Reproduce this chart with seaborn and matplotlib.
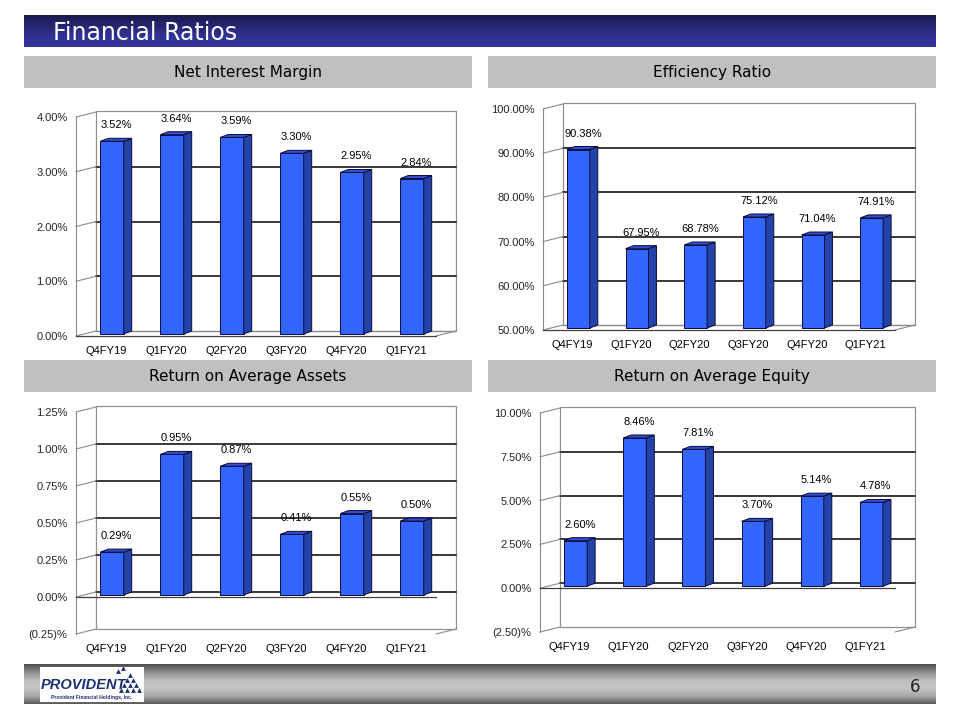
import numpy as np
import matplotlib
matplotlib.use("Agg")
import matplotlib.pyplot as plt
import seaborn as sns
from matplotlib.patches import Polygon, Rectangle
from matplotlib.transforms import IdentityTransform, ScaledTranslation
from matplotlib.colors import LinearSegmentedColormap

# data
quarters = ["Q4FY19", "Q1FY20", "Q2FY20", "Q3FY20", "Q4FY20", "Q1FY21"]
nim_values = [3.52, 3.64, 3.59, 3.30, 2.95, 2.84]
eff_values = [90.38, 67.95, 68.78, 75.12, 71.04, 74.91]
roaa_values = [0.29, 0.95, 0.87, 0.41, 0.55, 0.50]
roae_values = [2.60, 8.46, 7.81, 3.70, 5.14, 4.78]

nim_ticks = [0, 1, 2, 3, 4]
eff_ticks = [50, 60, 70, 80, 90, 100]
roaa_ticks = [-0.25, 0, 0.25, 0.5, 0.75, 1.0, 1.25]
roae_ticks = [-2.5, 0, 2.5, 5.0, 7.5, 10.0]

titles = ["Net Interest Margin", "Efficiency Ratio",
          "Return on Average Assets", "Return on Average Equity"]


def pct_label(v):
    return f"({abs(v):.2f})%" if v < 0 else f"{v:.2f}%"


sns.set_style("white")
plt.rcParams['font.family'] = ['Liberation Sans', 'DejaVu Sans']

FRONT = "#3366ff"
SIDE = "#2443a8"
TOP = "#3050d0"
EDGE = "#0b0b3c"
DX, DY = 20, 5        # back wall offset (px)
BX, BY = 6, 2         # bar front face offset (px)
SX, SY = 8, 3         # bar depth (px)
FS = 8

fig = plt.figure(figsize=(9.6, 7.2), dpi=100)
bg = fig.add_axes([0, 0, 1, 1], zorder=-1)
bg.axis("off")


def gradient(x0, x1, y0, y1, colors):
    cmap = LinearSegmentedColormap.from_list("g", colors)
    arr = np.linspace(0, 1, 128).reshape(-1, 1)
    bg.imshow(arr, cmap=cmap, extent=[x0, x1, y1, y0], aspect="auto",
              origin="upper", zorder=0, interpolation="bilinear")


# title bar
gradient(24, 936, 16, 47.5, ["#1a1a4c", "#262670", "#323296", "#34349a"])
bg.text(53, 33, "Financial Ratios", color="white", fontsize=17,
        family="DejaVu Sans", va="center", ha="left")

# grey section headers
for (x, y), title in zip([(24, 56), (488, 56), (24, 360), (488, 360)], titles):
    bg.add_patch(Rectangle((x, y), 448, 32, facecolor="#c0c0c0", edgecolor="none"))
    bg.text(x + 224, y + 16, title, fontsize=11, color="black",
            family="DejaVu Sans", ha="center", va="center")

# footer
gradient(24, 936, 664, 704, ["#4c4c4c", "#8e8e8e", "#bdbdbd", "#c4c4c4", "#a8a8a8", "#5a5a5a"])
bg.add_patch(Rectangle((40, 667), 104, 35, facecolor="white", edgecolor="none", zorder=2))
bg.text(41, 685, "PROVIDENT", fontsize=10.5, fontweight="bold", fontstyle="italic",
        color="#1c2f70", ha="left", va="center", zorder=3,
        family=["Liberation Sans Narrow", "Liberation Sans"], stretch="condensed")
bg.scatter([121, 127, 133, 139, 124, 130, 136, 127, 133, 130, 118, 123],
           [690, 690, 690, 690, 685, 685, 685, 680, 680, 675, 671, 668],
           marker="^", s=12, color="#1c2f70", zorder=3, linewidths=0)
bg.text(92, 697, "Provident Financial Holdings, Inc.", fontsize=3.6,
        color="#1c2f70", ha="center", va="center", zorder=3, fontweight="bold")
bg.text(915, 687, "6", fontsize=12, color="#222222", family="DejaVu Sans",
        ha="center", va="center")

panels = [
    (nim_values, nim_ticks, (76, 117, 436, 336), False),
    (eff_values, eff_ticks, (543, 109, 895, 330), False),
    (roaa_values, roaa_ticks, (76, 412, 436, 634), True),
    (roae_values, roae_ticks, (540, 413, 895, 632), True),
]

for values, ticks, (l, t, r, b), cross_zero in panels:
    lo, hi = ticks[0], ticks[-1]
    floor = 0 if cross_zero else lo

    def ypix(v):
        return b - (v - lo) / (hi - lo) * (b - t)

    # back wall + gridlines + left wall diagonals (image coords on bg)
    bg.add_patch(Rectangle((l + DX, t - DY - 1), r - l, b - t + 1, facecolor="white",
                           edgecolor="#909090", linewidth=0.9, zorder=1))
    for v in ticks:
        y = ypix(v)
        if lo < v < hi:
            bg.plot([l + DX, r + DX], [y - DY, y - DY], color="#383838", lw=1.4, zorder=2)
        bg.plot([l, l + DX], [y, y - DY], color="#8a8a8a", lw=0.8, zorder=2)
    bg.plot([r, r + DX], [b, b - DY], color="#8a8a8a", lw=0.8, zorder=2)
    if not cross_zero:
        bg.plot([l + DX, r + DX], [b - DY, b - DY], color="#8a8a8a", lw=0.9, zorder=2)

    # front plane axes
    ax = fig.add_axes([l / 960, (720 - b) / 720, (r - l) / 960, (b - t) / 720])
    ax.patch.set_alpha(0)
    sns.barplot(x=quarters, y=values, color=FRONT, saturation=1, width=0.39,
                edgecolor=EDGE, linewidth=0.7, ax=ax, zorder=3)
    ax.set_xlim(-0.5, 5.5)
    ax.set_ylim(lo, hi)

    shift = ScaledTranslation(BX / 100, BY / 100, fig.dpi_scale_trans)
    for p in list(ax.patches):
        p.set_y(floor)
        p.set_height(p.get_height() - floor)
        p.set_transform(ax.transData + shift)
        p.set_clip_on(False)
        x0, x1 = p.get_x(), p.get_x() + p.get_width()
        y0, y1 = floor, floor + p.get_height()
        (ax0, ay0) = ax.transData.transform((x0, y0)) + (BX, BY)
        (ax1, ay1) = ax.transData.transform((x1, y1)) + (BX, BY)
        side = [(ax1, ay0), (ax1, ay1), (ax1 + SX, ay1 + SY), (ax1 + SX, ay0 + SY)]
        top = [(ax0, ay1), (ax1, ay1), (ax1 + SX, ay1 + SY), (ax0 + SX, ay1 + SY)]
        for pts, fc in [(side, SIDE), (top, TOP)]:
            ax.add_patch(Polygon(pts, closed=True, facecolor=fc, edgecolor=EDGE,
                                 linewidth=0.7, transform=IdentityTransform(),
                                 clip_on=False, zorder=3))

    for i, v in enumerate(values):
        ax.annotate(f"{v:.2f}%", xy=(i, v), xytext=(10.5 * 0.72, 18 * 0.72),
                    textcoords="offset points", ha="center", va="center",
                    fontsize=FS, color="black")

    # axes styling
    ax.spines["top"].set_visible(False)
    ax.spines["right"].set_visible(False)
    ax.spines["left"].set_color("#8a8a8a")
    ax.spines["left"].set_linewidth(0.8)
    ax.spines["bottom"].set_color("#404040")
    ax.spines["bottom"].set_linewidth(0.9)
    ax.spines["bottom"].set_position(("data", floor))
    ax.set_yticks(ticks, [pct_label(v) for v in ticks])
    ax.tick_params(axis="y", direction="out", length=3.6, width=0.7,
                   color="#404040", pad=2.5, labelsize=FS)
    ax.set_xticks(range(len(quarters)), [""] * len(quarters))
    ax.set_xticks(np.arange(-0.5, len(quarters)), minor=True)
    ax.tick_params(axis="x", which="major", length=0)
    ax.tick_params(axis="x", which="minor", direction="out", length=3,
                   width=0.7, color="#404040")
    ax.set_xlabel("")
    ax.set_ylabel("")
    for i, q in enumerate(quarters):
        ax.annotate(q, xy=(i, 0), xycoords=ax.get_xaxis_transform(),
                    xytext=(0, -14.5 * 0.72), textcoords="offset points",
                    ha="center", va="center", fontsize=FS, color="black")

bg.set_xlim(0, 960)
bg.set_ylim(720, 0)

fig.savefig("out.png", dpi=100, facecolor="white")
